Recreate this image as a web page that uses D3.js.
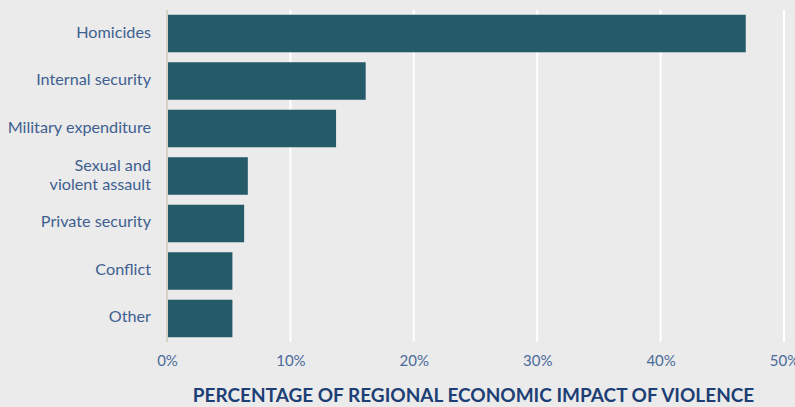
<!DOCTYPE html>
<html><head><meta charset="utf-8">
<script src="https://cdn.jsdelivr.net/npm/d3@7"></script>
<style>
html,body{margin:0;padding:0;background:#ebebeb;}
svg{display:block;}
</style></head>
<body>
<svg id="chart" width="795" height="407"></svg>
<script>
const categories = ["Homicides","Internal security","Military expenditure","Sexual and violent assault","Private security","Conflict","Other"];
const labelLines = [["Homicides"],["Internal security"],["Military expenditure"],["Sexual and","violent assault"],["Private security"],["Conflict"],["Other"]];
const values = [46.9, 16.1, 13.7, 6.55, 6.25, 5.3, 5.3];
const tickValues = [0,10,20,30,40,50];
const axisTitle = "PERCENTAGE OF REGIONAL ECONOMIC IMPACT OF VIOLENCE";

const svg = d3.select("#chart");
const font = "Lato, 'Open Sans', sans-serif";
svg.append("rect").attr("width",795).attr("height",407).attr("fill","#ebebeb");

const x = d3.scaleLinear().domain([0,50]).range([167,784]);
const y = d3.scaleBand().domain(categories).range([10,342]).paddingInner(0.21).paddingOuter(0.1);

// gridlines
svg.append("g").selectAll("line").data(tickValues.filter(d=>d>0)).join("line")
  .attr("x1",d=>x(d)).attr("x2",d=>x(d)).attr("y1",10).attr("y2",342)
  .attr("stroke","#ffffff").attr("stroke-width",2);

// bars
svg.append("g").selectAll("rect").data(values).join("rect")
  .attr("x",x(0)).attr("y",(d,i)=>y(categories[i]))
  .attr("width",d=>x(d)-x(0)).attr("height",y.bandwidth())
  .attr("fill","#255a69");

// axis line
svg.append("line").attr("x1",x(0)).attr("x2",x(0)).attr("y1",10).attr("y2",342)
  .attr("stroke","#d6d2c6").attr("stroke-width",2);

// category labels
const lg = svg.append("g");
labelLines.forEach((lines,i)=>{
  const cy = y(categories[i]) + y.bandwidth()/2 - 1.5;
  const lh = 19;
  const t = lg.append("text").attr("x",151).attr("text-anchor","end")
    .attr("font-family",font).attr("font-size",16.2).attr("fill","#3e6090");
  lines.forEach((ln,j)=>{
    t.append("tspan").attr("x",151)
      .attr("y", cy + (j - (lines.length-1)/2)*lh + 5.5)
      .text(ln);
  });
});

// x axis tick labels
const xAxis = d3.axisBottom(x).tickValues(tickValues).tickFormat(d=>d+"%").tickSize(0).tickPadding(0);
const ax = svg.append("g").attr("transform","translate(0,355)").call(xAxis);
ax.select(".domain").remove();
ax.selectAll("text").attr("font-family",font).attr("font-size",15).attr("fill","#4a6a9a").attr("dy","0.71em");

// axis title
svg.append("text").attr("x",(x(0)+x(50))/2 - 2).attr("y",402).attr("text-anchor","middle")
  .attr("font-family",font).attr("font-weight","bold").attr("font-size",19)
  .attr("fill","#1d3f75").text(axisTitle);
</script>
</body></html>
